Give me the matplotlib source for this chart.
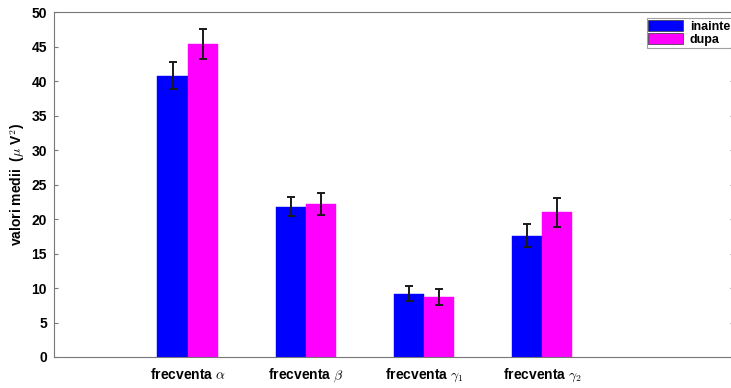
import matplotlib
matplotlib.use("Agg")
import matplotlib.pyplot as plt
import numpy as np

plt.rcParams["font.family"] = ["Liberation Sans", "DejaVu Sans"]
plt.rcParams["mathtext.fontset"] = "cm"

categories = [r"frecventa $\alpha$", r"frecventa $\beta$",
              r"frecventa $\gamma_{\mathsf{\mathbf{1}}}$",
              r"frecventa $\gamma_{\mathsf{\mathbf{2}}}$"]
series_names = ["inainte", "dupa"]
inainte = [40.8, 21.8, 9.2, 17.6]
inainte_err = [2.0, 1.4, 1.1, 1.7]
dupa = [45.4, 22.2, 8.7, 21.0]
dupa_err = [2.2, 1.6, 1.1, 2.1]

COLORS = ["#0000FF", "#FF00FF"]

fig = plt.figure(figsize=(7.31, 3.88), dpi=100)
ax = fig.add_axes([0.0739, 0.0799, 0.930, 0.889])

x = np.arange(1, len(categories) + 1)
w = 0.255
for i, (vals, errs) in enumerate([(inainte, inainte_err), (dupa, dupa_err)]):
    pos = x + (i - 0.5) * w
    ax.bar(pos, vals, width=w, color=COLORS[i], edgecolor=COLORS[i],
           linewidth=0.3, label=series_names[i])
    ax.errorbar(pos, vals, yerr=errs, fmt="none", ecolor="#1a1a1a",
                elinewidth=1.4, capsize=3, capthick=1.4)

ax.set_xlim(-0.13, 5.62)
ax.set_ylim(0, 50)
ax.set_yticks(np.arange(0, 51, 5))
ax.set_xticks(x)
ax.set_xticklabels(categories, fontsize=10, fontweight="bold")
ax.tick_params(axis="x", length=0, pad=7)
ax.tick_params(axis="y", direction="in", length=3, labelsize=10,
               right=True, color="#777777", pad=5)
for lbl in ax.get_yticklabels():
    lbl.set_fontweight("bold")
ax.set_ylabel(r"valori medii  ($\mu$ V$^{\mathsf{\mathbf{2}}}$)", fontsize=10,
              fontweight="bold", labelpad=3)

for s in ax.spines.values():
    s.set_color("#777777")
    s.set_linewidth(0.8)

leg = ax.legend(loc="upper right", bbox_to_anchor=(0.997, 0.983),
                prop={"weight": "bold", "size": 9}, frameon=True,
                fancybox=False, borderpad=0.15, handlelength=2.8,
                handleheight=1.0, handletextpad=0.5, labelspacing=0.05,
                borderaxespad=0.0)
leg.get_frame().set_edgecolor("#888888")
leg.get_frame().set_linewidth(0.8)
for p in leg.get_patches():
    p.set_edgecolor("#333333")
    p.set_linewidth(0.5)

plt.savefig("out.png", dpi=100)
plt.close()
